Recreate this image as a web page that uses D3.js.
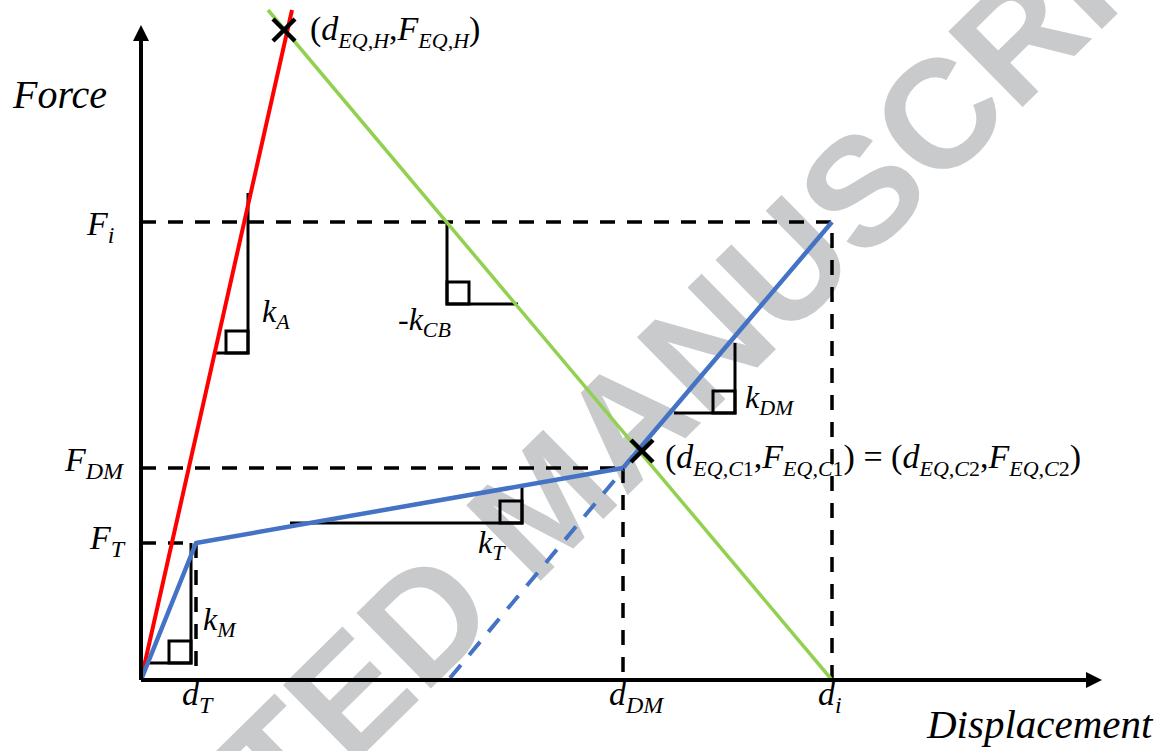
<!DOCTYPE html>
<html>
<head>
<meta charset="utf-8">
<script src="https://cdn.jsdelivr.net/npm/d3@7"></script>
<style>
  body { margin: 0; background: #fff; }
  svg text { font-family: "Liberation Serif", "DejaVu Serif", "Times New Roman", serif; font-style: italic; fill: #000; }
  svg text.wm { font-family: "Liberation Sans", Arial, "DejaVu Sans", sans-serif; font-style: normal; font-weight: bold; fill: #c9cacc; }
</style>
</head>
<body>
<div id="chart"></div>
<script>
// key values of the schematic (displacement, force), in drawing units
var dT = 55, dDM = 482, di = 691;
var FT = 137, FDM = 212, Fi = 458;
var xMax = 961, yMax = 655;

var redLine = [[0, 0], [151, 670]];
var greenLine = [[127, 670], [691, 0]];
var blueSolidA = [[0, 0], [dT, FT], [dDM, FDM]];
var blueSolidB = [[dDM, FDM], [di, Fi]];
var blueDashed = [[309, 2], [dDM, 210]];
var crossPts = [[143, 650], [501, 229]];

var xTicks = [
  {v: dT, main: "d", sub: "T"},
  {v: dDM, main: "d", sub: "DM"},
  {v: di, main: "d", sub: "i"}
];
var yTicks = [
  {v: Fi, main: "F", sub: "i"},
  {v: FDM, main: "F", sub: "DM"},
  {v: FT, main: "F", sub: "T"}
];

// slope markers: top of vertical leg, corner, end of horizontal leg
var slopes = [
  {main: "k", sub: "A", pts: [[107, 487], [107, 327], [74, 327]]},
  {main: "-k", sub: "CB", pts: [[306, 458], [306, 376], [377, 376]]},
  {main: "k", sub: "DM", pts: [[594, 337], [594, 267], [533, 267]]},
  {main: "k", sub: "T", pts: [[381, 195], [381, 157], [149, 157]]},
  {main: "k", sub: "M", pts: [[50, 137], [50, 17], [2, 17]]}
];

var width = 1161, height = 751;
var serif = "'Liberation Serif', 'DejaVu Serif', 'Times New Roman', serif";
var svg = d3.select("#chart").append("svg")
  .attr("width", width)
  .attr("height", height);

var x = d3.scaleLinear().domain([0, xMax]).range([141, 1102]);
var y = d3.scaleLinear().domain([0, yMax]).range([680, 25]);

var line = d3.line()
  .x(function(d){ return x(d[0]); })
  .y(function(d){ return y(d[1]); });

// watermark behind everything
svg.append("text")
  .attr("class", "wm")
  .attr("font-family", "'Liberation Sans', Arial, sans-serif")
  .attr("transform", "translate(582,540) rotate(-44.5)")
  .attr("text-anchor", "middle")
  .style("font-size", "154px")
  .text("ACCEPTED MANUSCRIPT");

// text with italic main letters and subscripts
function richText(sel, px, py, parts, size, subSize, anchor){
  var t = sel.append("text")
    .attr("x", px).attr("y", py)
    .attr("font-family", serif)
    .attr("text-anchor", anchor || "start")
    .style("font-size", size + "px");
  var shift = 0;
  parts.forEach(function(p){
    var target = p.sub ? Math.round(size * 0.23) : 0;
    var ts = t.append("tspan").attr("dy", target - shift).text(p.t);
    if (p.sub) ts.style("font-size", subSize + "px");
    if (p.up) ts.style("font-style", "normal");
    shift = target;
  });
  return t;
}

var dash = "15,12";

// guide dashes
var guides = svg.append("g")
  .attr("fill", "none")
  .attr("stroke", "#000")
  .attr("stroke-width", 3.5)
  .attr("stroke-dasharray", dash);
guides.append("path").attr("d", line([[0, Fi], [di, Fi], [di, 0]]));
guides.append("path").attr("d", line([[0, FDM], [dDM, FDM]]));
guides.append("path").attr("d", line([[dDM, FDM], [dDM, 0]]));
guides.append("path").attr("d", line([[0, FT], [dT, FT]]));
guides.append("path").attr("d", line([[dT, FT], [dT, 0]]));

// slope triangles
var tri = svg.append("g").attr("fill", "none").attr("stroke", "#000").attr("stroke-width", 3);
slopes.forEach(function(s){
  tri.append("path").attr("d", line(s.pts));
  var cx = x(s.pts[1][0]), cy = y(s.pts[1][1]);
  var dir = s.pts[2][0] > s.pts[1][0] ? 1 : -1;
  var sq = 22;
  tri.append("rect")
    .attr("x", dir > 0 ? cx : cx - sq)
    .attr("y", cy - sq)
    .attr("width", sq).attr("height", sq);
});

// curves
svg.append("path").attr("d", line(greenLine))
  .attr("fill", "none").attr("stroke", "#92d050").attr("stroke-width", 3.5);
svg.append("path").attr("d", line(redLine))
  .attr("fill", "none").attr("stroke", "#ff0000").attr("stroke-width", 4);
svg.append("path").attr("d", line(blueDashed))
  .attr("fill", "none").attr("stroke", "#4472c4").attr("stroke-width", 4)
  .attr("stroke-dasharray", "17,13");
svg.append("path").attr("d", line(blueSolidA))
  .attr("fill", "none").attr("stroke", "#4472c4").attr("stroke-width", 4.5)
  .attr("stroke-linejoin", "round");
svg.append("path").attr("d", line(blueSolidB))
  .attr("fill", "none").attr("stroke", "#4472c4").attr("stroke-width", 4.5);

// axes with arrow heads
var axes = svg.append("g");
axes.append("path").attr("d", line([[0, 0], [xMax - 12, 0]]))
  .attr("stroke", "#000").attr("stroke-width", 4);
axes.append("path").attr("d", line([[0, 0], [0, yMax - 12]]))
  .attr("stroke", "#000").attr("stroke-width", 4);
axes.append("polygon")
  .attr("points", [[x(xMax), y(0)], [x(xMax) - 16, y(0) - 8], [x(xMax) - 16, y(0) + 8]].join(" "))
  .attr("fill", "#000");
axes.append("polygon")
  .attr("points", [[x(0), y(yMax)], [x(0) - 8, y(yMax) + 16], [x(0) + 8, y(yMax) + 16]].join(" "))
  .attr("fill", "#000");

// cross markers
var cross = svg.append("g").attr("stroke", "#000").attr("stroke-width", 4.5);
crossPts.forEach(function(p){
  var cx = x(p[0]), cy = y(p[1]), r = 11;
  cross.append("line").attr("x1", cx - r).attr("y1", cy - r).attr("x2", cx + r).attr("y2", cy + r);
  cross.append("line").attr("x1", cx - r).attr("y1", cy + r).attr("x2", cx + r).attr("y2", cy - r);
});

// axis titles
svg.append("text").attr("font-family", serif).attr("x", 13).attr("y", 108).style("font-size", "40px").text("Force");
svg.append("text").attr("font-family", serif).attr("x", 927).attr("y", 738).style("font-size", "41px").text("Displacement");

// tick labels
var lab = svg.append("g");
xTicks.forEach(function(t){
  richText(lab, x(t.v) - 14, 705, [{t: t.main}, {t: t.sub, sub: 1}], 34, 24);
});
var yOff = [13, 3, 6];
var yLeft = [87, 65, 90];
yTicks.forEach(function(t, i){
  richText(lab, yLeft[i], y(t.v) + yOff[i], [{t: t.main}, {t: t.sub, sub: 1}], 34, 24);
});

// slope labels
var slopeOff = [[14, -31], [-49, 26], [10, -5], [-44, 30], [12, -33]];
slopes.forEach(function(s, i){
  var c = s.pts[1];
  richText(lab, x(c[0]) + slopeOff[i][0], y(c[1]) + slopeOff[i][1],
    [{t: s.main}, {t: s.sub, sub: 1}], 32, 22);
});

// point labels
richText(lab, 310, 40, [
  {t: "(", up: 1}, {t: "d"}, {t: "EQ,H", sub: 1}, {t: ",", up: 1},
  {t: "F"}, {t: "EQ,H", sub: 1}, {t: ")", up: 1}
], 34, 22);
richText(lab, 665, 468, [
  {t: "(", up: 1}, {t: "d"}, {t: "EQ,C", sub: 1}, {t: "1", sub: 1, up: 1}, {t: ",", up: 1},
  {t: "F"}, {t: "EQ,C", sub: 1}, {t: "1", sub: 1, up: 1}, {t: ") = (", up: 1},
  {t: "d"}, {t: "EQ,C", sub: 1}, {t: "2", sub: 1, up: 1}, {t: ",", up: 1},
  {t: "F"}, {t: "EQ,C", sub: 1}, {t: "2", sub: 1, up: 1}, {t: ")", up: 1}
], 34, 22);
</script>
</body>
</html>
